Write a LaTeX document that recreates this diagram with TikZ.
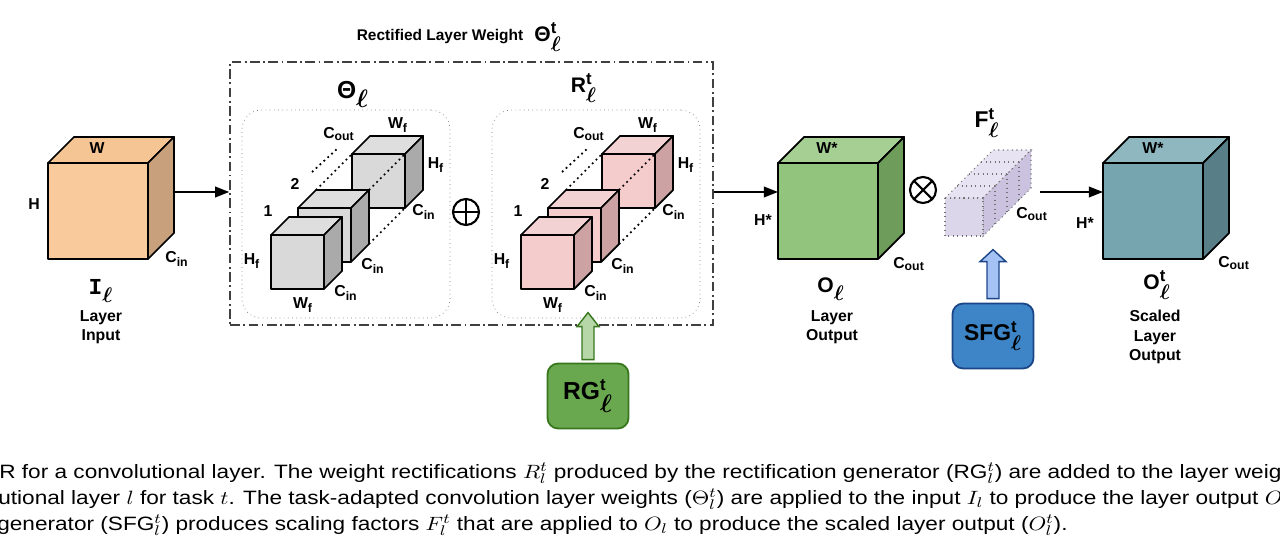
\documentclass[tikz,border=0pt]{standalone}
\usepackage{amsmath}
\usepackage{bm}
\usepackage{graphicx}
\usepackage{fontspec}
\setmainfont{Liberation Sans}
\setmonofont{Liberation Mono}
\usetikzlibrary{arrows.meta,calc,positioning}

\definecolor{orgfront}{HTML}{F9CB9C}
\definecolor{orgtop}{HTML}{F6C594}
\definecolor{orgside}{HTML}{C9A07C}
\definecolor{gryfront}{HTML}{D9D9D9}
\definecolor{grytop}{HTML}{DEDEDE}
\definecolor{gryside}{HTML}{AAAAAA}
\definecolor{pnkfront}{HTML}{F4CCCC}
\definecolor{pnktop}{HTML}{F2D2D2}
\definecolor{pnkside}{HTML}{CCA2A2}
\definecolor{grnfront}{HTML}{93C47D}
\definecolor{grntop}{HTML}{A6CF94}
\definecolor{grnside}{HTML}{6E9C5A}
\definecolor{tealfront}{HTML}{76A5AF}
\definecolor{tealtop}{HTML}{8EB7BF}
\definecolor{tealside}{HTML}{587F88}
\definecolor{lavfront}{HTML}{DCD6EA}
\definecolor{lavtop}{HTML}{E7E3F2}
\definecolor{lavside}{HTML}{CAC2DE}
\definecolor{rgfill}{HTML}{6AA84F}
\definecolor{rgline}{HTML}{38761D}
\definecolor{rgarrow}{HTML}{B6D7A8}
\definecolor{sfgfill}{HTML}{3D85C6}
\definecolor{sfgline}{HTML}{1C4587}
\definecolor{sfgarrow}{HTML}{A4C2F4}

% ell subscript, t superscript
\newcommand{\ellsub}{\ensuremath{_{\textstyle\bm{\ell}}}}
\newcommand{\elltee}{\ensuremath{^{\text{\bfseries\fontsize{9.5}{10}\selectfont t}}_{\textstyle\bm{\ell}}}}
\newcommand{\lsub}[1]{\ensuremath{_{\text{\bfseries\fontsize{7}{8}\selectfont #1}}}}

% cube: name, x, y (front top left), width, height, depth, colour
\newcommand{\cube}[7]{%
  \filldraw[cubeedge, fill=#7top] (#2,#3) -- ++(#6,-#6) -- ++(#4,0) -- ++(-#6,#6) -- cycle;
  \filldraw[cubeedge, fill=#7side] ($(#2,#3)+(#4,0)$) -- ++(#6,-#6) -- ++(0,#5) -- ++(-#6,#6) -- cycle;
  \filldraw[cubeedge, fill=#7front] (#2,#3) rectangle ++(#4,#5);
  \coordinate (#1) at ($(#2,#3)+(#4/2,#5/2)$);
}

\begin{document}
\begin{tikzpicture}[
    x=0.02cm, y=-0.02cm,
    cubeedge/.style={draw=black, line width=1pt, line join=round},
    lbl/.style={font=\bfseries\fontsize{9}{11}\selectfont, inner sep=0pt},
    biglbl/.style={font=\bfseries\fontsize{12}{14}\selectfont, inner sep=0pt},
    flow/.style={-{Triangle[length=8pt,width=6pt]}, line width=1pt},
    wbox/.style={draw=black!75, line width=0.9pt,
        dash pattern=on 5.5pt off 2pt on 1pt off 2pt,
        minimum width=9.66cm, minimum height=5.26cm, inner sep=0pt},
    kbox/.style={draw=black!55, dotted, rounded corners=11pt,
        minimum width=4.16cm, minimum height=4.16cm, inner sep=0pt},
    gen/.style={draw, line width=1pt, rounded corners=6pt,
        minimum width=1.62cm, minimum height=1.3cm, inner sep=0pt,
        font=\bfseries\fontsize{14}{17}\selectfont},
    blk/.style={line width=0.8pt, line join=miter},
    op/.style={circle, draw, line width=1.2pt, minimum size=0.52cm, inner sep=0pt},
    guide/.style={dotted, line width=1pt},
    fbar/.style={draw=black!55, dotted, line width=0.6pt},
    captext/.style={anchor=base west, inner sep=0pt,
        font=\fontsize{11}{14}\selectfont}
]
\useasboundingbox (0,0) rectangle (1280,543);
\clip (0,0) rectangle (1280,543);

% input
\cube{inp}{48}{163}{100}{96}{26}{org}
\node[lbl] (inW) at (97,148) {W};
\node[lbl] (inH) at (34,204) {H};
\node[lbl] (inC) at (177,259) {C\lsub{in}};
\node[biglbl, font=\bfseries\ttfamily\fontsize{13}{14}\selectfont] (inI) at (101,291) {I\ellsub};
\node[lbl, align=center] (inT) at (101,327) {Layer\\Input};

% rectified weight
\node[wbox] (rect) at (471.5,193.5) {};
\node[lbl, font=\bfseries\fontsize{8.8}{10}\selectfont] (title) at (440,37) {Rectified Layer Weight};
\node[biglbl, right=6pt of title] (titleT) {Θ\elltee};
\node[kbox] (thbox) at (346,214) {};
\node[kbox] (rbox) at (596,214) {};
\node[biglbl, font=\bfseries\fontsize{14}{16}\selectfont] (thlbl) at (353,94) {Θ\ellsub};
\node[biglbl] (rlbl) at (584,88) {R\elltee};

\foreach \dx/\c in {0/gry, 250/pnk}{
  \cube{k3}{352+\dx}{154}{53}{54}{18}{\c}
  \cube{k2}{298+\dx}{208}{53}{54}{18}{\c}
  \cube{k1}{271+\dx}{235}{53}{54}{18}{\c}
  \draw[guide] (312+\dx,172) -- (337+\dx,149);
  \draw[guide] (316+\dx,190) -- (352+\dx,154);
  \draw[guide] (369+\dx,190) -- (405+\dx,154);
  \draw[guide] (369+\dx,244) -- (405+\dx,208);
  \node[lbl] at (339+\dx,134) {C\lsub{out}};
  \node[lbl] at (398+\dx,125) {W\lsub{f}};
  \node[lbl] at (436+\dx,165) {H\lsub{f}};
  \node[lbl] at (424+\dx,212) {C\lsub{in}};
  \node[lbl] at (295+\dx,184) {2};
  \node[lbl] at (268+\dx,211) {1};
  \node[lbl] at (252+\dx,261) {H\lsub{f}};
  \node[lbl] at (303+\dx,305) {W\lsub{f}};
  \node[lbl] at (346+\dx,293) {C\lsub{in}};
  \node[lbl] at (373+\dx,266) {C\lsub{in}};
}

\node[op, path picture={
    \draw[line width=1.2pt] (path picture bounding box.north) -- (path picture bounding box.south);
    \draw[line width=1.2pt] (path picture bounding box.west) -- (path picture bounding box.east);}]
    (plus) at (466,212) {};

% rectification generator
\node[gen, fill=rgfill, draw=rgline] (rg) at (588,396) {RG\elltee};
\filldraw[blk, fill=rgarrow, draw=rgline] ($(rg.north)+(-6,-3)$) -- ++(0,-33) -- ++(-5,0)
    -- ++(11,-14) -- ++(11,14) -- ++(-5,0) -- ++(0,33) -- cycle;

% layer output
\cube{out}{778}{163}{100}{96}{26}{grn}
\node[lbl] (outW) at (827,148) {W*};
\node[lbl] (outH) at (763,220) {H*};
\node[lbl] (outC) at (909,264) {C\lsub{out}};
\node[biglbl] (outO) at (831,289) {O\ellsub};
\node[lbl, align=center] (outT) at (832,327) {Layer\\Output};

\coordinate (inout) at (173,192);
\coordinate (outin) at (778,192);
\draw[flow] (inout) -- (inout -| rect.west);
\draw[flow] (rect.east |- inout) -- (outin);

\node[op, path picture={
    \draw[line width=1.2pt] (path picture bounding box.north west) -- (path picture bounding box.south east);
    \draw[line width=1.2pt] (path picture bounding box.south west) -- (path picture bounding box.north east);}]
    (times) at (923,190) {};

% scaling factors
\filldraw[fbar, fill=lavtop] (945,198) -- (993,150) -- (1031,150) -- (983,198) -- cycle;
\filldraw[fbar, fill=lavside] (983,198) -- (1031,150) -- (1031,188) -- (983,236) -- cycle;
\filldraw[fbar, fill=lavfront] (945,198) rectangle (983,236);
\foreach \k in {1,2,3}{
  \draw[fbar] (945+12*\k,198-12*\k) -- (983+12*\k,198-12*\k);
  \draw[fbar] (983+12*\k,198-12*\k) -- (983+12*\k,236-12*\k);
}
\node[biglbl, font=\bfseries\fontsize{13}{15}\selectfont] (flbl) at (987,123) {F\elltee};
\node[lbl] (fC) at (1032,214) {C\lsub{out}};

\node[gen, fill=sfgfill, draw=sfgline, font=\bfseries\fontsize{13}{15}\selectfont] (sfg) at (993,336) {SFG\elltee};
\filldraw[blk, fill=sfgarrow, draw=sfgline] ($(sfg.north)+(-6,-4)$) -- ++(0,-37) -- ++(-7,0)
    -- ++(13,-12) -- ++(13,12) -- ++(-7,0) -- ++(0,37) -- cycle;

% scaled output
\cube{sout}{1103}{163}{100}{96}{26}{teal}
\node[lbl] (soutW) at (1153,148) {W*};
\node[lbl] (soutH) at (1085,223) {H*};
\node[lbl] (soutC) at (1234,263) {C\lsub{out}};
\node[biglbl] (soutO) at (1157,285) {O\elltee};
\node[lbl, align=center] (soutT) at (1155,337) {Scaled\\Layer\\Output};

\coordinate (fout) at (1040,192);
\coordinate (soutin) at (1103,192);
\draw[flow] (fout) -- (soutin);

% caption
\node[captext] (cap1) at (-1,478) {\scalebox{1.17}[1]{R for a convolutional layer. The weight rectifications $R_l^t$ produced by the rectification generator (RG$_l^t$) are added to the layer weig}};
\node[captext] (cap2) at (-2,504) {\scalebox{1.17}[1]{utional layer $l$ for task $t$. The task-adapted convolution layer weights ($\Theta_l^t$) are applied to the input $I_l$ to produce the layer output $O_l$}};
\node[captext] (cap3) at (-3,530) {\scalebox{1.17}[1]{generator (SFG$_l^t$) produces scaling factors $F_l^t$ that are applied to $O_l$ to produce the scaled layer output ($O_l^t$).}};
\end{tikzpicture}
\end{document}
